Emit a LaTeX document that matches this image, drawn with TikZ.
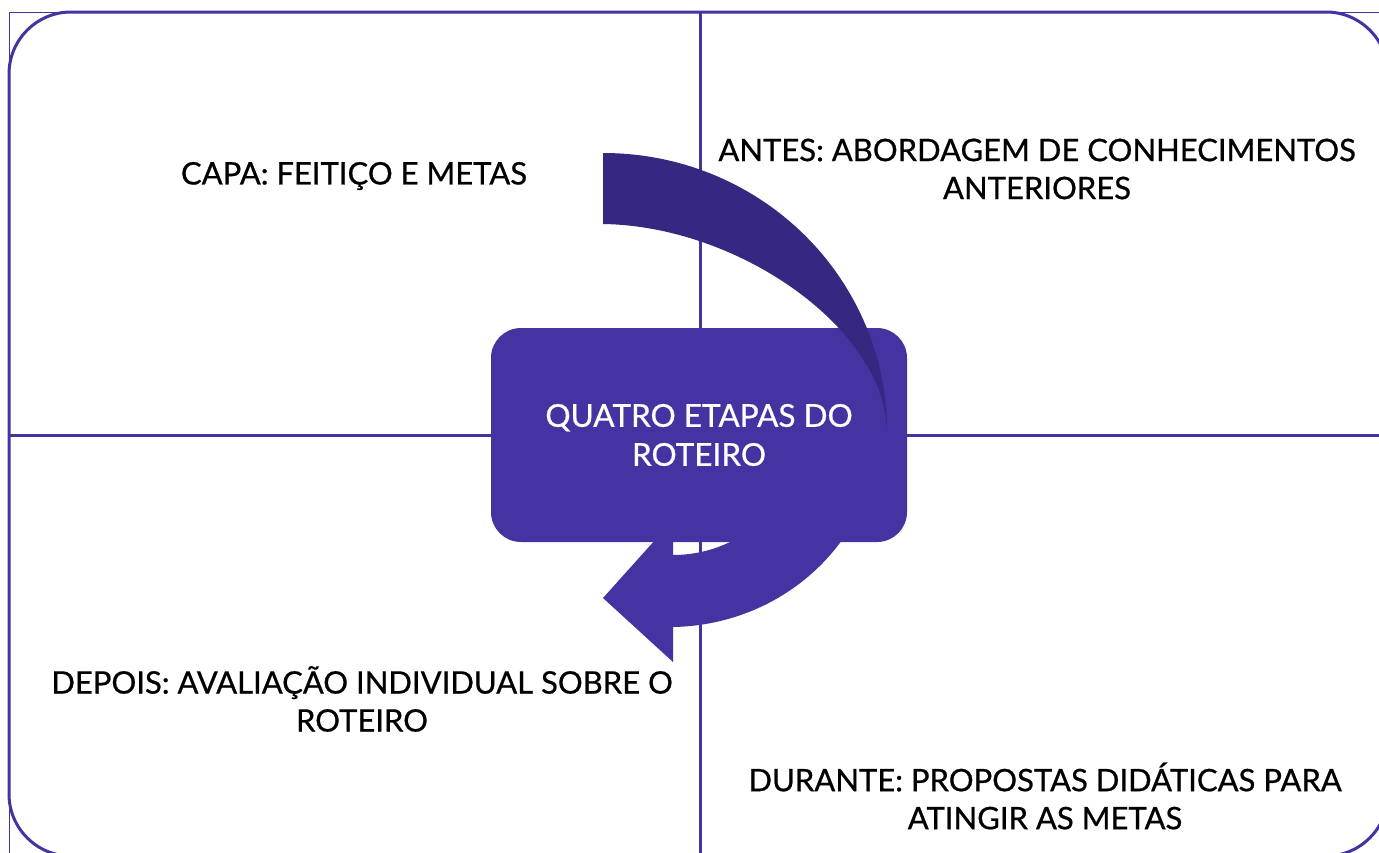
\documentclass[tikz,border=0pt]{standalone}
\usepackage{fontspec}
\setmainfont{Lato}
\newfontfamily\lblfont{Lato}[FakeBold=0.7]
\usepackage{tikz}

\definecolor{matrixblue}{HTML}{4433A0}
\definecolor{bandblue}{HTML}{362880}

\begin{document}
\begin{tikzpicture}[x=1pt, y=-1pt,
  lbl/.style={align=center, font=\lblfont\fontsize{31}{38}\selectfont, text=black, inner sep=0pt},
  hubtxt/.style={align=center, font=\lblfont\fontsize{31.5}{39}\selectfont, text=white}]
\useasboundingbox (0,0) rectangle (1379,852);

% frame and quadrants
\draw[matrixblue, line width=1pt] (9,12) rectangle (1400,870);
\draw[matrixblue, line width=3pt, rounded corners=62pt] (9,12) rectangle (1388,856);
\draw[matrixblue, line width=3pt] (700,12) -- (700,856);
\draw[matrixblue, line width=3pt] (9,435) -- (1388,435);

% lower part of the cycle arrow (behind the hub)
\fill[matrixblue] (880,422) .. controls (880,536) and (787,625) .. (673,627)
  -- (673,662) -- (603,598) -- (673,520) -- (673,555)
  .. controls (746,555) and (806,495) .. (806,422) -- cycle;

\node[fill=matrixblue, rounded corners=30pt, minimum width=416pt, minimum height=214pt,
  hubtxt] (hub) at (699,435) {QUATRO ETAPAS DO\\ROTEIRO};

% upper part of the cycle arrow
\fill[bandblue] (603,153) .. controls (760,153) and (887,277) .. (887,432)
  .. controls (886,330) and (740,226) .. (603,224) -- cycle;

\node[lbl] (capa) at (354,176) {CAPA: FEITIÇO E METAS};
\node[lbl] (antes) at (1037,169) {ANTES: ABORDAGEM DE CONHECIMENTOS\\ANTERIORES};
\node[lbl] (depois) at (362,699) {DEPOIS: AVALIAÇÃO INDIVIDUAL SOBRE O\\ROTEIRO};
\node[lbl] (durante) at (1045,796) {DURANTE: PROPOSTAS DIDÁTICAS PARA\\ATINGIR AS METAS};

\end{tikzpicture}
\end{document}
